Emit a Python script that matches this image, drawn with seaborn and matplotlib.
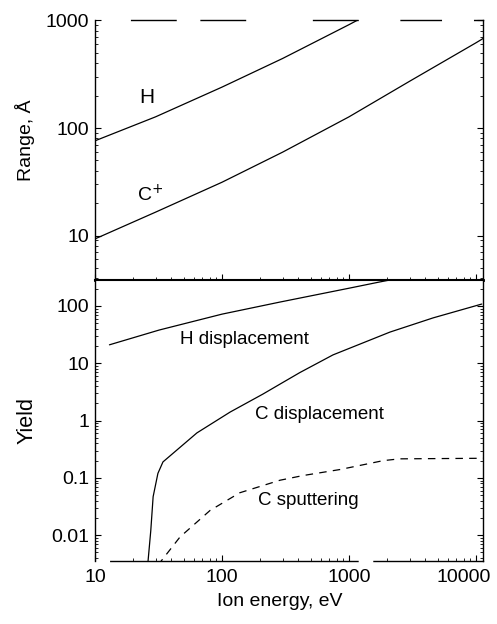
import numpy as np
import pandas as pd
import matplotlib
matplotlib.use("Agg")
import matplotlib.pyplot as plt
import matplotlib.transforms as mtransforms
import seaborn as sns

# ---------------- data ----------------
# Upper panel: projected range (Angstrom) vs ion energy (eV)
range_H_energy = [10, 30, 100, 300, 1000, 1200]
range_H_value = [76, 127, 240, 443, 914, 1024]

range_C_energy = [10, 30, 100, 300, 1000, 3000, 10000, 11500]
range_C_value = [9.3, 16.5, 31.3, 59.6, 127, 272, 620, 685]

# Lower panel: yields vs ion energy (eV)
hdisp_energy = [13, 32, 100, 286, 1000, 1740, 3000]
hdisp_yield = [21, 38, 72, 117, 204, 262, 331]

cdisp_energy = [26, 27.5, 28.7, 31.3, 34.3, 63.5, 116, 210, 300, 411, 748, 2100, 4600, 11100]
cdisp_yield = [0.003, 0.012, 0.047, 0.12, 0.19, 0.61, 1.41, 2.9, 4.6, 6.9, 14, 35, 62, 108]

csput_energy = [31.3, 46.7, 80.5, 138, 286, 436, 850, 1860, 2500, 11500]
csput_yield = [0.003, 0.0093, 0.027, 0.055, 0.091, 0.11, 0.14, 0.20, 0.215, 0.22]

x_ticks = [10, 100, 1000, 10000]
x_ticklabels = ["10", "100", "1000", "10000"]
range_ticks = [10, 100, 1000]
range_ticklabels = ["10", "100", "1000"]
yield_ticks = [0.01, 0.1, 1, 10, 100]
yield_ticklabels = ["0.01", "0.1", "1", "10", "100"]

# ---------------- style ----------------
sns.set_style("ticks")
plt.rcParams["font.family"] = ["Liberation Sans", "DejaVu Sans"]
plt.rcParams["axes.linewidth"] = 1.0
for key in ("text.color", "axes.labelcolor", "xtick.color", "ytick.color",
            "axes.edgecolor"):
    plt.rcParams[key] = "black"

fig = plt.figure(figsize=(4.97, 6.24), dpi=100)
ax1 = fig.add_axes([0.1911, 0.5513, 0.7807, 0.4159])
ax2 = fig.add_axes([0.1911, 0.1010, 0.7807, 0.4503])

lw = 0.9
# upper panel
sns.lineplot(x=range_H_energy, y=range_H_value, ax=ax1, color="black", lw=lw,
             sort=False, estimator=None)
sns.lineplot(x=range_C_energy, y=range_C_value, ax=ax1, color="black", lw=lw,
             sort=False, estimator=None)
# lower panel
sns.lineplot(x=hdisp_energy, y=hdisp_yield, ax=ax2, color="black", lw=lw,
             sort=False, estimator=None)
sns.lineplot(x=cdisp_energy, y=cdisp_yield, ax=ax2, color="black", lw=lw,
             sort=False, estimator=None)
sns.lineplot(x=csput_energy, y=csput_yield, ax=ax2, color="black", lw=lw,
             sort=False, estimator=None, linestyle=(0, (6, 5)))

for ax in (ax1, ax2):
    ax.set_xscale("log")
    ax.set_yscale("log")
    ax.set_xlim(10, 11350)
    ax.set_xlabel("")
    ax.set_ylabel("")
    ax.tick_params(which="major", direction="in", length=4, width=0.8,
                   labelsize=14, top=False, right=True, colors="black")
    ax.tick_params(which="minor", direction="in", length=2, width=0.6,
                   top=False, right=True, colors="black")
    ax.tick_params(axis="y", which="major", pad=4)
    for s in ax.spines.values():
        s.set_color("black")
        s.set_linewidth(1.0)

ax1.set_ylim(3.86, 1000)
ax2.set_ylim(0.00355, 284)

ax1.set_yticks(range_ticks)
ax1.set_yticklabels(range_ticklabels)
ax1.set_xticks(x_ticks)
ax1.tick_params(axis="x", labelbottom=False)

ax2.set_yticks(yield_ticks)
ax2.set_yticklabels(yield_ticklabels)
ax2.set_xticks(x_ticks)
ax2.set_xticklabels(x_ticklabels)
ax2.tick_params(axis="x", which="major", pad=6)

# the last x tick label sits a little left of its tick in the reference
last = ax2.get_xticklabels()[-1]
last.set_transform(last.get_transform() +
                   mtransforms.ScaledTranslation(-0.12, 0, fig.dpi_scale_trans))

# spine appearance (scanned figure: broken top frame, thick separator)
ax1.spines["top"].set_linestyle((254, (32, 18, 32, 49, 32, 31, 29, 24, 7, 26)))
ax1.spines["bottom"].set_linewidth(2.0)
ax2.spines["top"].set_linewidth(1.5)
ax2.spines["bottom"].set_linestyle((268.5, (178, 11.5, 79, 11)))

# annotations
ax1.text(25.7, 194, "H", fontsize=15, ha="center", va="center")
ax1.text(27.1, 23.8, "C$^{+}$", fontsize=14, ha="center", va="center")
ax2.text(149, 25.5, "H displacement", fontsize=13.5, ha="center", va="center")
ax2.text(590, 1.3, "C displacement", fontsize=13.5, ha="center", va="center")
ax2.text(475, 0.041, "C sputtering", fontsize=13.5, ha="center", va="center")

fig.text(25 / 497, 1 - 140 / 624, "Range, Å", rotation=90, fontsize=14,
         ha="center", va="center")
fig.text(27 / 497, 1 - 420 / 624, "Yield", rotation=90, fontsize=15.5,
         ha="center", va="center")
fig.text(280 / 497, 1 - 602 / 624, "Ion energy, eV", fontsize=14,
         ha="center", va="center")

fig.savefig("out.png", dpi=100, facecolor="white")
